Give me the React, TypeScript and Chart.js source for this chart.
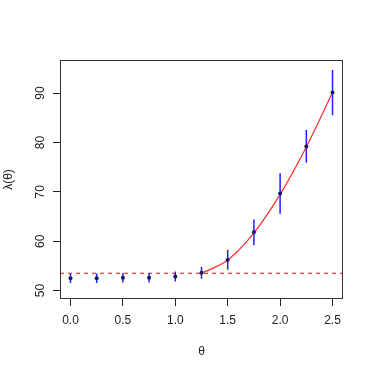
import React, { useEffect, useRef } from "react";
import { Chart, registerables } from "chart.js";

Chart.register(...registerables);

const theta = [0, 0.25, 0.5, 0.75, 1.0, 1.25, 1.5, 1.75, 2.0, 2.25, 2.5];
const lambda = [52.5, 52.5, 52.6, 52.6, 52.85, 53.6, 56.2, 61.8, 69.65, 79.2, 90.1];
const errHalf = [0.95, 0.95, 0.95, 0.95, 1.0, 1.2, 2.0, 2.6, 4.1, 3.3, 4.6];
const curveTheta = [1.25, 1.5, 1.75, 2.0, 2.25, 2.5];
const curveLambda = [53.5, 56.2, 61.7, 69.5, 79.1, 90.1];
const baseline = 53.5;
const xTicks = [0, 0.5, 1.0, 1.5, 2.0, 2.5];
const yTicks = [50, 60, 70, 80, 90];

const FONT = "'Liberation Sans', Arial, Helvetica, sans-serif";

export default function App() {
  const ref = useRef<HTMLCanvasElement | null>(null);

  useEffect(() => {
    if (!ref.current) return;
    const errData: { x: number; y: number }[] = [];
    theta.forEach((t, i) => {
      errData.push({ x: t, y: lambda[i] - errHalf[i] });
      errData.push({ x: t, y: lambda[i] + errHalf[i] });
      errData.push({ x: t, y: NaN });
    });

    const boxPlugin = {
      id: "boxAndBaseline",
      beforeDatasetsDraw(chart: any) {
        const { ctx, chartArea } = chart;
        const y = chart.scales.y.getPixelForValue(baseline);
        ctx.save();
        ctx.strokeStyle = "#ff3333";
        ctx.lineWidth = 1.2;
        ctx.setLineDash([4, 4]);
        ctx.beginPath();
        ctx.moveTo(chartArea.left, y);
        ctx.lineTo(chartArea.right, y);
        ctx.stroke();
        ctx.restore();
      },
      afterDraw(chart: any) {
        const { ctx, chartArea } = chart;
        ctx.save();
        ctx.strokeStyle = "#333333";
        ctx.lineWidth = 1;
        ctx.strokeRect(
          Math.round(chartArea.left) + 0.5,
          Math.round(chartArea.top) + 0.5,
          Math.round(chartArea.right - chartArea.left) - 1,
          Math.round(chartArea.bottom - chartArea.top) - 1
        );
        ctx.restore();
      },
    };

    const chart = new Chart(ref.current, {
      type: "scatter",
      data: {
        datasets: [
          {
            label: "err",
            data: errData,
            showLine: true,
            spanGaps: false,
            borderColor: "#1f1fff",
            borderWidth: 1.5,
            pointRadius: 0,
            order: 3,
          } as any,
          {
            label: "curve",
            data: curveTheta.map((t, i) => ({ x: t, y: curveLambda[i] })),
            showLine: true,
            borderColor: "#ff2a2a",
            borderWidth: 1.2,
            pointRadius: 0,
            cubicInterpolationMode: "monotone",
            order: 2,
          } as any,
          {
            label: "points",
            data: theta.map((t, i) => ({ x: t, y: lambda[i] })),
            showLine: false,
            pointRadius: 2,
            pointBackgroundColor: "#16165e",
            pointBorderColor: "#16165e",
            pointBorderWidth: 0,
            order: 1,
          } as any,
        ],
      },
      options: {
        responsive: false,
        animation: false,
        layout: { padding: { top: 60, right: 31, left: 0, bottom: 0 } },
        plugins: {
          legend: { display: false },
          tooltip: { enabled: false },
        },
        scales: {
          x: {
            type: "linear",
            min: -0.1,
            max: 2.6,
            afterFit: (s: any) => {
              s.height = 75;
            },
            afterBuildTicks: (s: any) => {
              s.ticks = xTicks.map((v) => ({ value: v }));
            },
            border: { display: false },
            grid: {
              drawOnChartArea: false,
              drawTicks: true,
              tickLength: 7,
              color: "#222",
            },
            ticks: {
              color: "#222",
              font: { family: FONT, size: 12 },
              padding: 7,
              maxRotation: 0,
              minRotation: 0,
              callback: (v: any) => Number(v).toFixed(1),
            },
            title: {
              display: true,
              text: "θ",
              color: "#222",
              font: { family: FONT, size: 12 },
              padding: { top: 0, bottom: 15 },
            },
          },
          y: {
            type: "linear",
            min: 48.3,
            max: 96.7,
            afterFit: (s: any) => {
              s.width = 60;
            },
            afterBuildTicks: (s: any) => {
              s.ticks = yTicks.map((v) => ({ value: v }));
            },
            border: { display: false },
            grid: {
              drawOnChartArea: false,
              drawTicks: true,
              tickLength: 7,
              color: "#222",
            },
            ticks: {
              color: "#222",
              font: { family: FONT, size: 12 },
              padding: 6,
              minRotation: 90,
              maxRotation: 90,
              crossAlign: "center",
              callback: (v: any) => String(v),
            },
            title: {
              display: true,
              text: "λ(θ)",
              color: "#222",
              font: { family: FONT, size: 12 },
              padding: { top: 1, bottom: 0 },
            },
          },
        },
      },
      plugins: [boxPlugin],
    } as any);

    return () => chart.destroy();
  }, []);

  return (
    <div style={{ position: "absolute", left: 0, top: 0, width: 374, height: 374, background: "#fff" }}>
      <canvas ref={ref} width={374} height={374} style={{ display: "block" }} />
    </div>
  );
}
